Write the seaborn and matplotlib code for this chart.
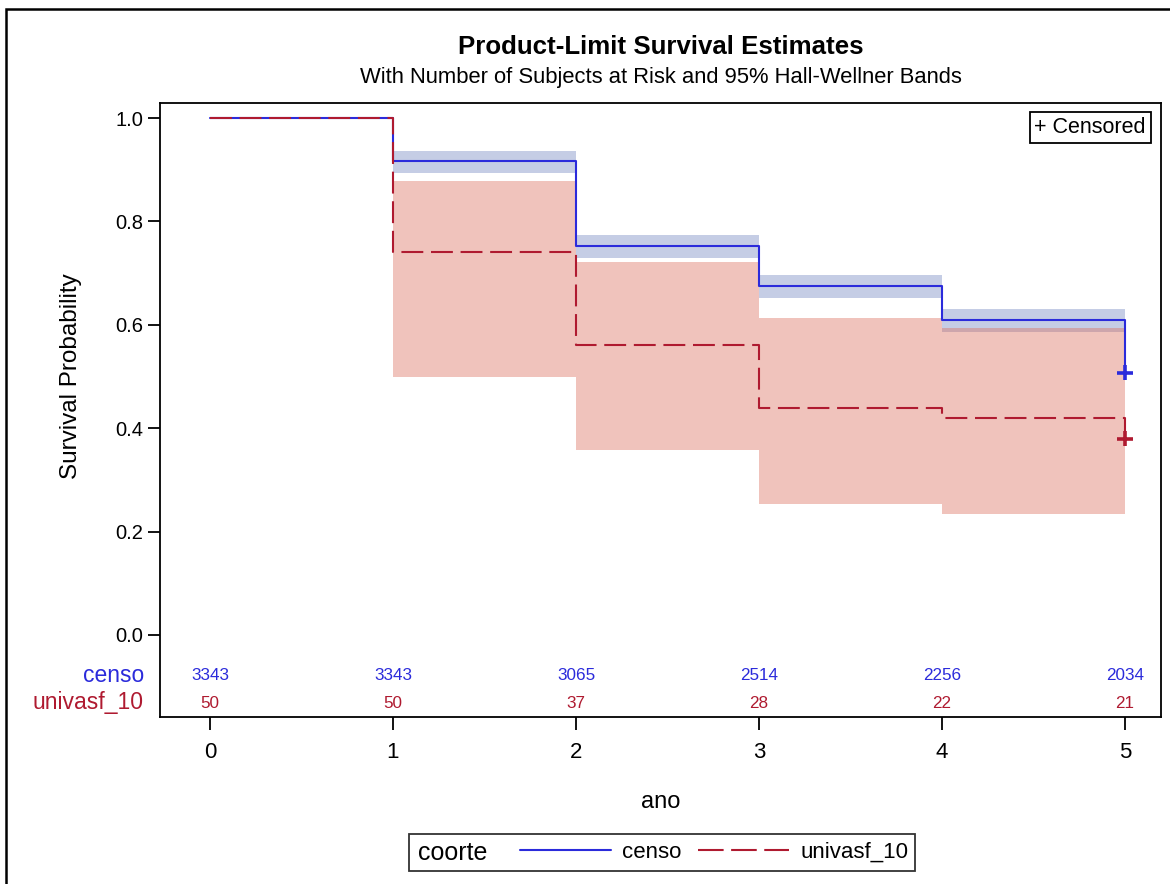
import numpy as np
import pandas as pd
import matplotlib
matplotlib.use("Agg")
import matplotlib.pyplot as plt
import seaborn as sns
from matplotlib.lines import Line2D
from matplotlib.patches import Rectangle
from matplotlib.offsetbox import HPacker, DrawingArea

# ---------------- data ----------------
groups = ["censo", "univasf_10"]
times = [0, 1, 2, 3, 4, 5]
surv_censo = [1.0, 0.917, 0.752, 0.676, 0.609, 0.507]
surv_univasf = [1.0, 0.740, 0.561, 0.440, 0.420, 0.380]

band_times = [1, 2, 3, 4, 5]
censo_lower = [0.894, 0.730, 0.652, 0.587]
censo_upper = [0.936, 0.773, 0.696, 0.630]
univasf_lower = [0.500, 0.358, 0.253, 0.235]
univasf_upper = [0.878, 0.721, 0.613, 0.593]

censor_time = [5, 5]
censor_surv = [0.507, 0.380]

risk_times = [0, 1, 2, 3, 4, 5]
risk_censo = [3343, 3343, 3065, 2514, 2256, 2034]
risk_univasf = [50, 50, 37, 28, 22, 21]

yticks = [0.0, 0.2, 0.4, 0.6, 0.8, 1.0]

# ---------------- style ----------------
sns.set_theme(style="white")
plt.rcParams["font.family"] = ["Liberation Sans", "DejaVu Sans"]
plt.rcParams["text.color"] = "black"
plt.rcParams["axes.labelcolor"] = "black"
plt.rcParams["xtick.color"] = "black"
plt.rcParams["ytick.color"] = "black"

blue = "#2B2BDB"
red = "#AF1A30"
blue_band = "#6E84C0"
red_band = "#DA6958"
dash = (10.5, 3.7)

W, H = 1170, 884
fig = plt.figure(figsize=(W / 100, H / 100), dpi=100)
ax = fig.add_axes([160 / W, 1 - 717 / H, 1001 / W, 614 / H])

df = pd.DataFrame({
    "ano": times + times,
    "surv": surv_censo + surv_univasf,
    "coorte": [groups[0]] * len(times) + [groups[1]] * len(times),
})

# confidence bands (step)
ax.fill_between(band_times, censo_lower + censo_lower[-1:], censo_upper + censo_upper[-1:],
                step="post", color=blue_band, alpha=0.4, linewidth=0, zorder=1)
ax.fill_between(band_times, univasf_lower + univasf_lower[-1:], univasf_upper + univasf_upper[-1:],
                step="post", color=red_band, alpha=0.4, linewidth=0, zorder=1)

sns.lineplot(data=df, x="ano", y="surv", hue="coorte", style="coorte",
             palette={groups[0]: blue, groups[1]: red},
             dashes={groups[0]: "", groups[1]: dash},
             drawstyle="steps-post", linewidth=1.5, errorbar=None,
             legend=False, ax=ax, zorder=3)

cdf = pd.DataFrame({"ano": censor_time, "surv": censor_surv, "coorte": groups})
sns.scatterplot(data=cdf, x="ano", y="surv", hue="coorte",
                palette={groups[0]: blue, groups[1]: red},
                marker="+", s=120, linewidth=2.6, legend=False, ax=ax, zorder=4)

# axes limits / ticks
y_top = 1 + 15 / 517
y_bot = -82 / 517
ax.set_ylim(y_bot, y_top)
ax.set_xlim(-50 / 183, 5 + 36 / 183)
ax.set_yticks(yticks)
ax.set_yticklabels([f"{v:.1f}" for v in yticks])
ax.set_xticks(risk_times)
ax.tick_params(axis="both", which="both", direction="out", length=9, width=1.3,
               color="black", labelcolor="black", pad=3,
               bottom=True, left=True, top=False, right=False)
ax.tick_params(axis="y", labelsize=14.5)
ax.tick_params(axis="x", labelsize=16, pad=9)
for s in ax.spines.values():
    s.set_color("black")
    s.set_linewidth(1.3)

ax.set_xlabel("ano", fontsize=17, labelpad=20)
ax.set_ylabel("Survival Probability", fontsize=17.5)
ax.yaxis.set_label_coords(-0.078, (717 - 376) / 614)

# risk table
y_r1 = -40 / 517
y_r2 = -68 / 517
for t, n in zip(risk_times, risk_censo):
    ax.text(t, y_r1, str(n), color=blue, fontsize=12.3, ha="center", va="center")
for t, n in zip(risk_times, risk_univasf):
    ax.text(t, y_r2, str(n), color=red, fontsize=12.3, ha="center", va="center")
trans = ax.get_yaxis_transform()
ax.text(-0.016, y_r1, groups[0], color=blue, fontsize=16.5, ha="right", va="center",
        transform=trans)
ax.text(-0.016, y_r2, groups[1], color=red, fontsize=16.5, ha="right", va="center",
        transform=trans)

# censored key
ax.text(0.985, 0.977, "+ Censored", transform=ax.transAxes, ha="right", va="top",
        fontsize=15.5, color="black",
        bbox=dict(boxstyle="square,pad=0.22", facecolor="white", edgecolor="black",
                  linewidth=1.3))

# titles
cx = (160 + 1161) / 2 / W
fig.text(cx, 1 - 47 / H, "Product-Limit Survival Estimates", ha="center", va="center",
         fontsize=18.6, fontweight="bold")
fig.text(cx, 1 - 78 / H, "With Number of Subjects at Risk and 95% Hall-Wellner Bands",
         ha="center", va="center", fontsize=15.8)

# bottom legend
handles = [Line2D([], [], color=blue, lw=1.5),
           Line2D([], [], color=red, lw=1.5, dashes=(12.3, 3.6))]
leg = fig.legend(handles, groups, ncol=2, title="coorte", fontsize=16, title_fontsize=18,
                 loc="center", bbox_to_anchor=((408 + 916) / 2 / W, 1 - 852.5 / H),
                 frameon=True, fancybox=False, edgecolor="black", handlelength=4.1,
                 columnspacing=0.8, handletextpad=0.5, borderpad=0.3)
leg.get_frame().set_linewidth(1.3)
c = leg.get_children()[0]
title_box = c.get_children()[0]
hpack = c.get_children()[1]
c._children = [hpack]
title_wrap = HPacker(pad=0, sep=0, align="center",
                     children=[DrawingArea(2, 0), title_box, DrawingArea(11, 0)])
hpack._children = [title_wrap] + hpack.get_children()
hpack.sep = 12
hpack.align = "center"

# outer border
fig.patches.append(Rectangle((6 / W, -0.05), 1.2, 1 - 9 / H + 0.05,
                             transform=fig.transFigure, fill=False,
                             edgecolor="black", linewidth=1.8))

fig.savefig("out.png", dpi=100)
